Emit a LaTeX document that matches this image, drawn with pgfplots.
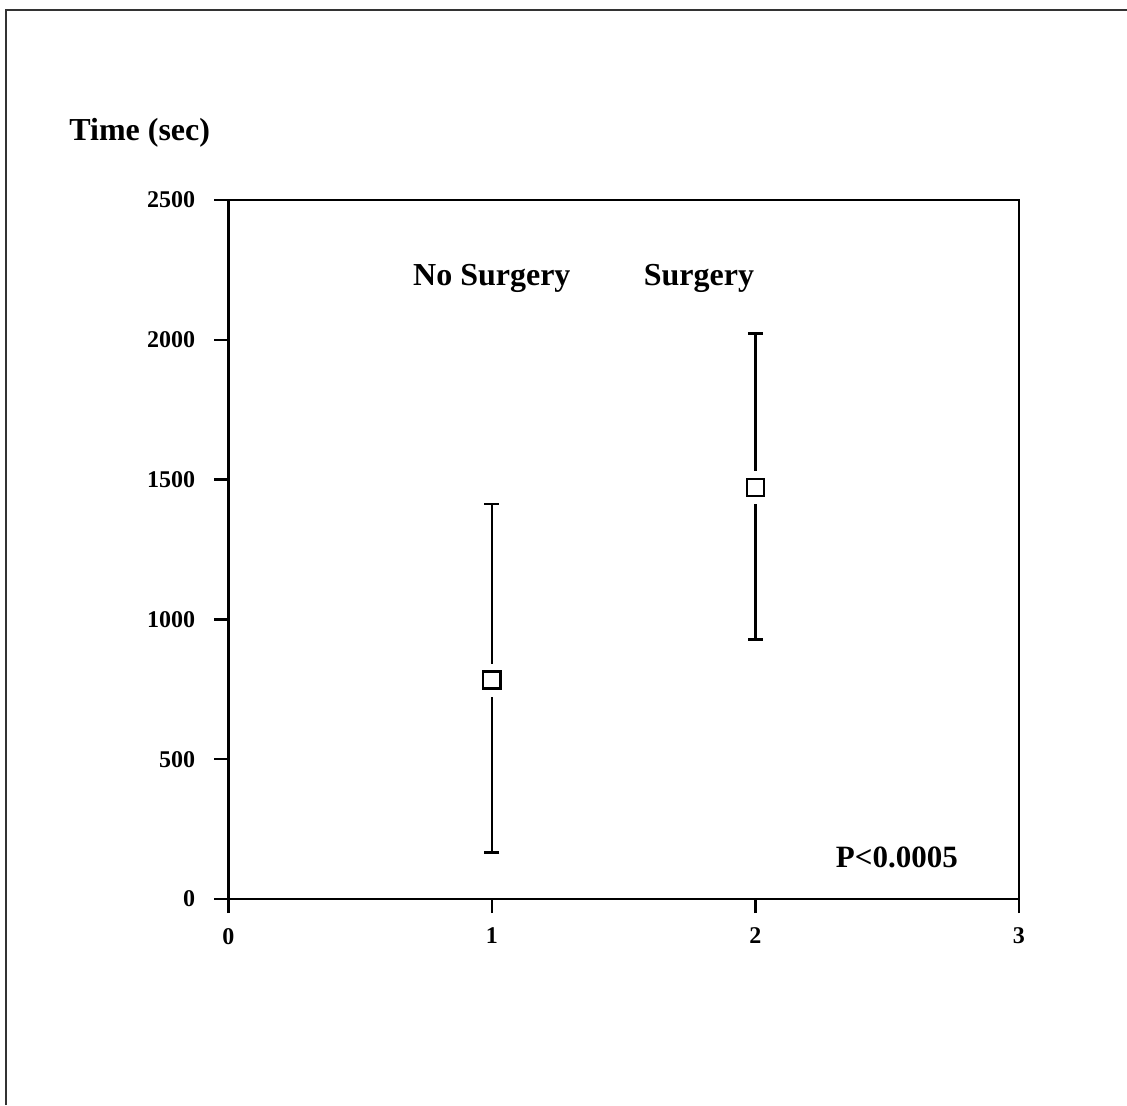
\documentclass[border=0pt]{standalone}
\usepackage{fontspec}
\setmainfont{Liberation Serif}
\usepackage{pgfplots}
\pgfplotsset{compat=1.18}
\begin{document}
\begin{tikzpicture}
\useasboundingbox (-114.15pt,-103pt) rectangle (449.35pt,449.5pt);
\draw[black!80, line width=0.9pt] (-111.15pt,-103pt) -- (-111.15pt,444.5pt) -- (449.35pt,444.5pt);
\begin{axis}[
  scale only axis,
  width=395.3pt, height=349.5pt,
  xmin=0, xmax=3, ymin=0, ymax=2500,
  xtick={0,1,2,3}, ytick={0,500,1000,1500,2000,2500},
  xtick pos=bottom, ytick pos=left,
  tick align=outside,
  major tick length=7pt,
  axis line style={line width=1.3pt},
  every tick/.style={black, line width=1.2pt},
  tick label style={font=\fontsize{12}{14}\selectfont\bfseries},
  /pgf/number format/assume math mode=true,
  /pgf/number format/1000 sep={},
  xticklabel style={yshift=-4pt},
  yticklabel style={xshift=-6pt},
  clip=false,
]
\addplot[draw=none, mark=none, forget plot,
  error bars/.cd, y dir=both, y explicit,
  error bar style={line width=1.25pt, black},
  error mark options={rotate=90, mark size=3.8pt, line width=1.25pt, black}]
  table[x=x, y=y, y error plus=ep, y error minus=em] {
  x y ep em
  1 783 630 617
  2 1472 551 544
  };
\addplot[only marks, mark=square*, mark size=8pt, mark options={fill=white, draw=white}]
  coordinates {(1,783) (2,1472)};
\addplot[only marks, mark=square, mark size=4.3pt, mark options={fill=white, draw=black, line width=1.25pt}]
  coordinates {(1,783) (2,1472)};
\node[anchor=base, font=\fontsize{16}{19}\selectfont\bfseries] at (axis cs:1.0,2196) {No Surgery};
\node[anchor=base, font=\fontsize{16}{19}\selectfont\bfseries] at (axis cs:1.786,2196) {Surgery};
\node[anchor=base, font=\fontsize{15.5}{18}\selectfont\bfseries] at (axis cs:2.537,114) {P<0.0005};
\end{axis}
\node[anchor=west, font=\fontsize{16}{19}\selectfont\bfseries] at (-83pt,383pt) {Time (sec)};
\end{tikzpicture}
\end{document}
